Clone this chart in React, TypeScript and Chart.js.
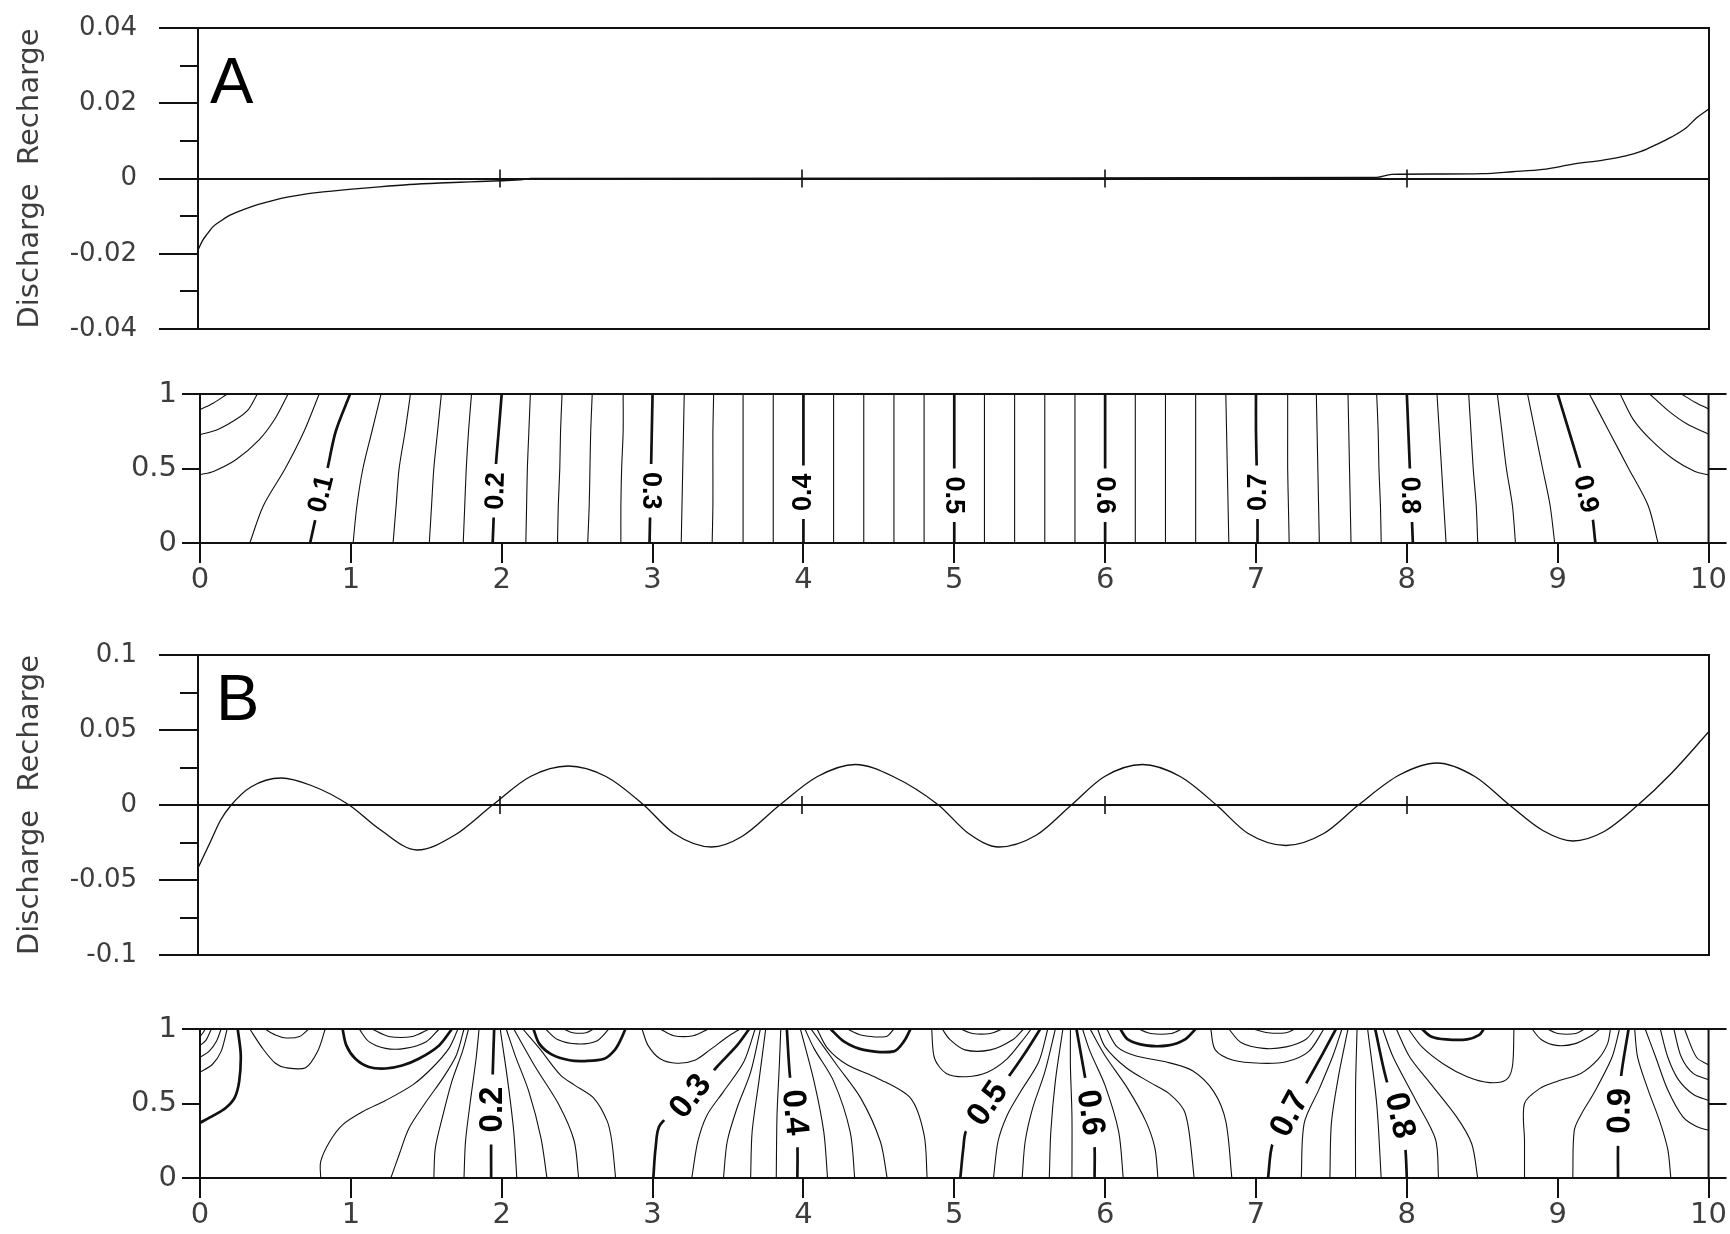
import { useEffect, useRef } from "react";
import { Chart, registerables } from "chart.js";

Chart.register(...registerables);

type Pt = [number, number];

const FONT = "'Liberation Sans', Arial, Helvetica, sans-serif";
const AXFONT = "'DejaVu Sans', Verdana, sans-serif";
const INK = "#111111";
const TEXT = "#3d3d3d";

// ---------------- Panel A : discharge / recharge profile ----------------
const xA = [0, 0.03, 0.06, 0.1, 0.15, 0.2, 0.3, 0.4, 0.5, 0.6, 0.7, 0.8, 0.9, 1.0, 1.2, 1.4, 1.6, 1.8, 2.0, 2.15, 2.2,
  7.8, 7.9, 8.2, 8.5, 8.7, 8.9, 9.1, 9.3, 9.45, 9.55, 9.65, 9.75, 9.85, 9.92, 10];
const yA = [-0.019, -0.0165, -0.0148, -0.0128, -0.0113, -0.01, -0.0083, -0.0069, -0.0058, -0.0049, -0.0042, -0.0037,
  -0.0033, -0.0029, -0.0022, -0.0016, -0.0012, -0.0009, -0.0006, -0.0003, 0,
  0.0003, 0.0011, 0.0012, 0.0013, 0.0018, 0.0024, 0.0038, 0.0049, 0.006, 0.0072, 0.009, 0.011, 0.0135, 0.0162, 0.0185];
const yMajorA = [-0.04, -0.02, 0, 0.02, 0.04];
const yLabelA = ["-0.04", "-0.02", "0", "0.02", "0.04"];
const yMinorA = [-0.03, -0.01, 0.01, 0.03];

// ---------------- Panel B : discharge / recharge profile ----------------
const xB = [0, 0.08, 0.15, 0.22, 0.35, 0.55, 0.75, 1.0, 1.2, 1.45, 1.7, 1.95, 2.2, 2.45, 2.7, 2.95, 3.15, 3.4, 3.6, 3.85,
  4.1, 4.35, 4.6, 4.9, 5.1, 5.3, 5.55, 5.78, 6.0, 6.25, 6.5, 6.74, 6.95, 7.2, 7.45, 7.68, 7.95, 8.2, 8.45, 8.68,
  8.9, 9.1, 9.3, 9.53, 9.75, 10];
const yB = [-0.042, -0.025, -0.01, 0, 0.012, 0.018, 0.013, 0, -0.016, -0.03, -0.02, 0, 0.019, 0.026, 0.019, 0,
  -0.019, -0.028, -0.021, 0, 0.019, 0.027, 0.019, 0, -0.019, -0.028, -0.02, 0, 0.019, 0.027, 0.019, 0,
  -0.019, -0.027, -0.019, 0, 0.02, 0.028, 0.019, 0, -0.017, -0.024, -0.018, 0, 0.021, 0.049];
const yMajorB = [-0.1, -0.05, 0, 0.05, 0.1];
const yLabelB = ["-0.1", "-0.05", "0", "0.05", "0.1"];
const yMinorB = [-0.075, -0.025, 0.025, 0.075];

// ---------------- shared axes ----------------
const xTicks = [0, 1, 2, 3, 4, 5, 6, 7, 8, 9, 10];
const xTickLabels = ["0", "1", "2", "3", "4", "5", "6", "7", "8", "9", "10"];
const zeroMarks = [2, 4, 6, 8];
const depthTicks = [0, 0.5, 1];
const depthLabels = ["0", "0.5", "1"];

// ---------------- Contours A (x position of each level at depth 0, .25, .5, .75, 1) ----------------
const aLevels = [0.08, 0.10, 0.12, 0.14, 0.16, 0.18, 0.20, 0.22, 0.24, 0.26, 0.28, 0.30, 0.32, 0.34, 0.36, 0.38, 0.40,
  0.42, 0.44, 0.46, 0.48, 0.50, 0.52, 0.54, 0.56, 0.58, 0.60, 0.62, 0.64, 0.66, 0.68, 0.70, 0.72, 0.74, 0.76, 0.78,
  0.80, 0.82, 0.84, 0.86, 0.88, 0.90, 0.92];
const aX0 = [0.33, 0.73, 1.015, 1.28, 1.52, 1.745, 1.94, 2.16, 2.37, 2.57, 2.79, 2.98, 3.19, 3.395, 3.60, 3.80, 4.00,
  4.20, 4.40, 4.60, 4.80, 5.00, 5.20, 5.40, 5.60, 5.80, 6.00, 6.20, 6.40, 6.60, 6.82, 7.01, 7.22, 7.42, 7.63, 7.83,
  8.04, 8.26, 8.47, 8.72, 8.98, 9.25, 9.665];
const aX25 = [0.42, 0.785, 1.04, 1.30, 1.535, 1.755, 1.95, 2.165, 2.375, 2.58, 2.79, 2.985, 3.195, 3.40, 3.60, 3.80,
  4.00, 4.20, 4.40, 4.60, 4.80, 5.00, 5.20, 5.40, 5.60, 5.80, 6.00, 6.20, 6.40, 6.60, 6.815, 7.01, 7.215, 7.415, 7.625,
  7.825, 8.03, 8.245, 8.46, 8.70, 8.95, 9.22, 9.60];
const aX50 = [0.565, 0.845, 1.08, 1.32, 1.55, 1.765, 1.96, 2.17, 2.385, 2.585, 2.795, 2.99, 3.20, 3.40, 3.60, 3.80,
  4.00, 4.20, 4.40, 4.60, 4.80, 5.00, 5.20, 5.40, 5.60, 5.80, 6.00, 6.20, 6.40, 6.60, 6.81, 7.005, 7.21, 7.41, 7.62,
  7.815, 8.02, 8.23, 8.44, 8.66, 8.90, 9.15, 9.47];
const aX75 = [0.69, 0.90, 1.14, 1.36, 1.575, 1.78, 1.98, 2.18, 2.39, 2.59, 2.805, 2.995, 3.205, 3.40, 3.60, 3.80,
  4.00, 4.20, 4.40, 4.60, 4.80, 5.00, 5.20, 5.40, 5.60, 5.80, 6.00, 6.20, 6.40, 6.60, 6.805, 7.00, 7.21, 7.405, 7.615,
  7.81, 8.01, 8.215, 8.425, 8.63, 8.85, 9.075, 9.34];
const aX100 = [0.79, 0.995, 1.20, 1.395, 1.60, 1.80, 2.00, 2.19, 2.40, 2.60, 2.805, 3.00, 3.21, 3.405, 3.60, 3.80,
  4.00, 4.20, 4.40, 4.60, 4.80, 5.00, 5.20, 5.40, 5.60, 5.80, 6.00, 6.20, 6.40, 6.60, 6.80, 7.00, 7.21, 7.40, 7.61,
  7.80, 8.00, 8.20, 8.41, 8.60, 8.80, 9.00, 9.21];
const aCornerLevels = [0.02, 0.04, 0.06, 0.94, 0.96, 0.98];
const aCornerPaths: Pt[][] = [
  [[0, 0.895], [0.09, 0.94], [0.18, 1]],
  [[0, 0.727], [0.114, 0.76], [0.24, 0.83], [0.32, 0.895], [0.38, 1]],
  [[0, 0.459], [0.089, 0.48], [0.24, 0.56], [0.39, 0.69], [0.495, 0.83], [0.584, 1]],
  [[9.414, 1], [9.5, 0.83], [9.62, 0.69], [9.77, 0.56], [9.91, 0.48], [10, 0.457]],
  [[9.61, 1], [9.73, 0.89], [9.855, 0.80], [10, 0.73]],
  [[9.82, 1], [9.91, 0.945], [10, 0.9]],
];
const aLabelText = ["0.1", "0.2", "0.3", "0.4", "0.5", "0.6", "0.7", "0.8", "0.9"];
const aLabelLevel = [0.1, 0.2, 0.3, 0.4, 0.5, 0.6, 0.7, 0.8, 0.9];
const aLabelX = [0.8, 1.955, 2.99, 3.995, 5.0, 6.0, 7.01, 8.025, 9.19];
const aLabelY = [0.33, 0.35, 0.35, 0.34, 0.32, 0.32, 0.34, 0.32, 0.33];
const aLabelRot = [-76, -88, 90, -90, 90, 90, -90, 89, 77];

// ---------------- Contours B (traced polylines) ----------------
const bLevels = [
  0.02, 0.04, 0.06, 0.08, 0.10, 0.12, 0.14, 0.10, 0.08, 0.06,
  0.12, 0.14, 0.16, 0.18, 0.20, 0.22, 0.24, 0.26, 0.28, 0.30,
  0.32, 0.34, 0.28, 0.26, 0.30, 0.32, 0.34, 0.36, 0.38, 0.40,
  0.42, 0.44, 0.46, 0.48, 0.50, 0.52, 0.48, 0.46, 0.44, 0.50,
  0.52, 0.54, 0.56, 0.58, 0.60, 0.62, 0.64, 0.66, 0.68, 0.70,
  0.72, 0.68, 0.66, 0.64, 0.70, 0.72, 0.74, 0.76, 0.78, 0.80,
  0.82, 0.84, 0.86, 0.88, 0.90, 0.84, 0.82, 0.88, 0.90,
  0.92, 0.94, 0.96, 0.98, 1.00];
const bPaths: Pt[][] = [
  [[0, 0.95], [0.02, 0.975], [0.035, 1]],
  [[0, 0.89], [0.04, 0.925], [0.075, 1]],
  [[0, 0.81], [0.06, 0.85], [0.11, 0.92], [0.14, 1]],
  [[0, 0.71], [0.08, 0.76], [0.14, 0.85], [0.18, 1]],
  [[0, 0.37], [0.09, 0.42], [0.17, 0.47], [0.23, 0.54], [0.26, 0.65], [0.27, 0.83], [0.25, 1]],
  [[0.33, 1], [0.415, 0.87], [0.5, 0.77], [0.57, 0.74], [0.7, 0.74], [0.78, 0.85], [0.83, 1]],
  [[0.43, 1], [0.5, 0.96], [0.57, 0.94], [0.66, 0.95], [0.72, 1]],
  [[0.945, 1], [0.97, 0.89], [1.03, 0.8], [1.12, 0.745], [1.23, 0.735], [1.34, 0.755], [1.45, 0.8], [1.585, 0.89], [1.67, 1]],
  [[1.055, 1], [1.12, 0.915], [1.23, 0.87], [1.36, 0.87], [1.5, 0.915], [1.585, 1]],
  [[1.14, 1], [1.25, 0.95], [1.41, 0.95], [1.52, 1]],
  [[0.8, 0], [0.8, 0.11], [0.86, 0.245], [0.945, 0.357], [1.08, 0.446], [1.23, 0.52], [1.41, 0.625], [1.54, 0.74], [1.65, 0.87], [1.71, 1]],
  [[1.265, 0], [1.32, 0.156], [1.386, 0.335], [1.5, 0.513], [1.61, 0.67], [1.7, 0.826], [1.75, 1]],
  [[1.55, 0], [1.56, 0.2], [1.61, 0.42], [1.67, 0.65], [1.74, 0.85], [1.78, 1]],
  [[1.75, 0], [1.76, 0.245], [1.795, 0.536], [1.83, 0.8], [1.85, 1]],
  [[1.93, 0], [1.93, 0.24], [1.935, 0.46], [1.94, 0.69], [1.95, 1]],
  [[2.1, 0], [2.08, 0.31], [2.04, 0.65], [1.99, 1]],
  [[2.3, 0], [2.26, 0.27], [2.18, 0.58], [2.09, 0.82], [2.03, 1]],
  [[2.51, 0], [2.48, 0.25], [2.38, 0.49], [2.22, 0.75], [2.08, 1]],
  [[2.14, 1], [2.25, 0.87], [2.39, 0.69], [2.48, 0.625], [2.61, 0.536], [2.7, 0.38], [2.73, 0.245], [2.755, 0]],
  [[2.21, 1], [2.25, 0.9], [2.33, 0.83], [2.45, 0.79], [2.55, 0.785], [2.68, 0.8], [2.75, 0.86], [2.79, 0.93], [2.82, 1]],
  [[2.29, 1], [2.37, 0.93], [2.5, 0.9], [2.63, 0.92], [2.71, 1]],
  [[2.41, 1], [2.47, 0.975], [2.56, 0.975], [2.61, 1]],
  [[2.93, 1], [2.97, 0.89], [3.05, 0.8], [3.16, 0.77], [3.28, 0.79], [3.38, 0.86], [3.5, 0.95], [3.58, 1]],
  [[3.05, 1], [3.14, 0.955], [3.27, 0.955], [3.37, 1]],
  [[3.005, 0], [3.02, 0.2], [3.05, 0.357], [3.26, 0.55], [3.43, 0.75], [3.56, 0.89], [3.64, 1]],
  [[3.26, 0], [3.3, 0.245], [3.36, 0.42], [3.47, 0.58], [3.605, 0.78], [3.68, 1]],
  [[3.47, 0], [3.495, 0.245], [3.56, 0.47], [3.65, 0.71], [3.715, 1]],
  [[3.65, 0], [3.66, 0.31], [3.705, 0.65], [3.75, 1]],
  [[3.82, 0], [3.825, 0.42], [3.84, 0.75], [3.85, 1]],
  [[3.96, 0], [3.96, 0.22], [3.94, 0.45], [3.91, 0.69], [3.89, 1]],
  [[4.16, 0], [4.135, 0.31], [4.07, 0.65], [3.98, 1]],
  [[4.34, 0], [4.31, 0.31], [4.2, 0.65], [4.07, 0.87], [4.01, 1]],
  [[4.555, 0], [4.51, 0.245], [4.38, 0.536], [4.22, 0.76], [4.05, 1]],
  [[4.82, 0], [4.8, 0.29], [4.71, 0.536], [4.49, 0.67], [4.29, 0.76], [4.16, 0.87], [4.09, 1]],
  [[4.18, 1], [4.27, 0.915], [4.4, 0.86], [4.6, 0.85], [4.665, 0.915], [4.71, 1]],
  [[4.29, 1], [4.38, 0.96], [4.55, 0.95], [4.6, 1]],
  [[4.85, 1], [4.87, 0.8], [4.95, 0.7], [5.08, 0.68], [5.22, 0.71], [5.35, 0.8], [5.45, 0.92], [5.51, 1]],
  [[4.92, 1], [4.97, 0.93], [5.07, 0.86], [5.24, 0.86], [5.39, 0.93], [5.46, 1]],
  [[5.04, 1], [5.12, 0.97], [5.24, 0.97], [5.32, 1]],
  [[5.04, 0], [5.06, 0.2], [5.08, 0.32], [5.22, 0.5], [5.36, 0.68], [5.47, 0.84], [5.57, 1]],
  [[5.26, 0], [5.29, 0.245], [5.35, 0.42], [5.44, 0.58], [5.56, 0.78], [5.62, 1]],
  [[5.45, 0], [5.47, 0.245], [5.52, 0.47], [5.6, 0.71], [5.67, 1]],
  [[5.63, 0], [5.64, 0.31], [5.67, 0.65], [5.72, 1]],
  [[5.78, 0], [5.78, 0.42], [5.77, 0.75], [5.77, 1]],
  [[5.93, 0], [5.93, 0.21], [5.91, 0.44], [5.87, 0.66], [5.81, 1]],
  [[6.12, 0], [6.09, 0.31], [6.0, 0.62], [5.9, 0.85], [5.85, 1]],
  [[6.35, 0], [6.33, 0.2], [6.27, 0.38], [6.15, 0.6], [6.0, 0.82], [5.9, 1]],
  [[6.59, 0], [6.555, 0.32], [6.52, 0.46], [6.42, 0.57], [6.3, 0.64], [6.14, 0.74], [6.0, 0.88], [5.95, 1]],
  [[6.01, 1], [6.08, 0.88], [6.2, 0.82], [6.4, 0.78], [6.58, 0.72], [6.72, 0.58], [6.8, 0.38], [6.84, 0]],
  [[6.1, 1], [6.15, 0.93], [6.27, 0.89], [6.42, 0.89], [6.53, 0.93], [6.6, 1]],
  [[6.22, 1], [6.3, 0.97], [6.44, 0.97], [6.51, 1]],
  [[6.7, 1], [6.73, 0.86], [6.85, 0.79], [7.03, 0.77], [7.2, 0.78], [7.35, 0.85], [7.45, 1]],
  [[6.82, 1], [6.9, 0.91], [7.05, 0.87], [7.2, 0.88], [7.33, 0.93], [7.39, 1]],
  [[6.98, 1], [7.08, 0.975], [7.2, 0.975], [7.26, 1]],
  [[7.08, 0], [7.11, 0.23], [7.22, 0.43], [7.33, 0.63], [7.44, 0.83], [7.53, 1]],
  [[7.3, 0], [7.32, 0.37], [7.42, 0.6], [7.51, 0.82], [7.57, 1]],
  [[7.49, 0], [7.5, 0.37], [7.55, 0.7], [7.61, 1]],
  [[7.66, 0], [7.66, 0.6], [7.67, 1]],
  [[7.83, 0], [7.8, 0.5], [7.74, 1]],
  [[8.0, 0], [7.99, 0.2], [7.96, 0.41], [7.87, 0.64], [7.79, 1]],
  [[8.21, 0], [8.19, 0.26], [8.06, 0.52], [7.91, 0.81], [7.84, 1]],
  [[8.47, 0], [8.43, 0.23], [8.33, 0.41], [8.16, 0.63], [8.02, 0.81], [7.93, 1]],
  [[8.78, 0], [8.78, 0.25], [8.78, 0.5], [8.88, 0.6], [9.0, 0.65], [9.15, 0.7], [9.27, 0.8], [9.33, 0.9], [9.35, 1]],
  [[8.01, 1], [8.1, 0.88], [8.25, 0.76], [8.4, 0.68], [8.55, 0.64], [8.66, 0.66], [8.7, 0.75], [8.71, 1]],
  [[8.1, 1], [8.16, 0.95], [8.26, 0.93], [8.4, 0.93], [8.48, 0.96], [8.51, 1]],
  [[8.83, 1], [8.89, 0.93], [8.99, 0.89], [9.11, 0.9], [9.23, 0.96], [9.28, 1]],
  [[8.93, 1], [9.0, 0.97], [9.12, 0.97], [9.18, 1]],
  [[9.1, 0], [9.11, 0.32], [9.16, 0.435], [9.24, 0.57], [9.36, 0.81], [9.41, 1]],
  [[9.4, 0], [9.4, 0.22], [9.41, 0.44], [9.42, 0.68], [9.47, 1]],
  [[9.75, 0], [9.73, 0.19], [9.68, 0.37], [9.6, 0.59], [9.53, 0.81], [9.51, 1]],
  [[10, 0.32], [9.92, 0.345], [9.83, 0.41], [9.73, 0.59], [9.65, 0.81], [9.58, 1]],
  [[10, 0.52], [9.9, 0.56], [9.8, 0.66], [9.73, 0.81], [9.68, 1]],
  [[10, 0.66], [9.9, 0.7], [9.82, 0.81], [9.77, 1]],
  [[10, 0.76], [9.92, 0.81], [9.84, 1]],
];
const bLabelText = ["0.2", "0.3", "0.4", "0.5", "0.6", "0.7", "0.8", "0.9"];
const bLabelLevel = [0.2, 0.3, 0.4, 0.5, 0.6, 0.7, 0.8, 0.9];
const bLabelX = [1.935, 3.25, 3.945, 5.22, 5.905, 7.22, 7.955, 9.41];
const bLabelY = [0.46, 0.55, 0.44, 0.5, 0.44, 0.43, 0.42, 0.45];
const bLabelRot = [-90, -52, 84, -55, 82, -62, 78, -89];

// ---------------- helpers ----------------
function seg(ctx: CanvasRenderingContext2D, x1: number, y1: number, x2: number, y2: number) {
  ctx.beginPath();
  ctx.moveTo(x1, y1);
  ctx.lineTo(x2, y2);
  ctx.stroke();
}

const isMajor = (lv: number) => {
  const k = Math.round(lv * 100);
  return k > 0 && k < 100 && k % 10 === 0;
};

const hiddenTicks = (len: number) => ({
  display: true, drawOnChartArea: false, drawTicks: true, tickLength: len, tickColor: "rgba(0,0,0,0)",
});

interface LineSpec {
  xs: number[]; ys: number[]; majors: number[]; labels: string[]; minors: number[];
  min: number; max: number; letter: string; letterDx: number; letterBase: number;
  padTop: number; padBottom: number;
}

const LINE_LEFT = 198;
const CONTOUR_LEFT = 200;
const RIGHT_PAD = 21;

function buildLine(canvas: HTMLCanvasElement, p: LineSpec) {
  const frame = {
    id: "frame-" + p.letter,
    afterDatasetsDraw(chart: any) {
      const { ctx, chartArea: ca, scales } = chart;
      const xs = scales.x, ys = scales.y;
      ctx.save();
      ctx.strokeStyle = INK;
      ctx.lineWidth = 2;
      seg(ctx, ca.left, ca.top - 1, ca.left, ca.bottom + 1);
      seg(ctx, ca.right, ca.top - 1, ca.right, ca.bottom + 1);
      for (const v of p.majors) {
        const py = Math.round(ys.getPixelForValue(v));
        const full = v === p.min || v === p.max || v === 0;
        seg(ctx, ca.left - 39, py, full ? ca.right + 1 : ca.left, py);
      }
      for (const v of p.minors) {
        const py = Math.round(ys.getPixelForValue(v));
        seg(ctx, ca.left - 18, py, ca.left, py);
      }
      ctx.lineWidth = 1.6;
      const y0 = ys.getPixelForValue(0);
      for (const m of zeroMarks) {
        const px = Math.round(xs.getPixelForValue(m));
        seg(ctx, px, y0 - 9, px, y0 + 9);
      }
      ctx.fillStyle = "#000";
      ctx.font = `65px ${FONT}`;
      ctx.textAlign = "left";
      ctx.textBaseline = "alphabetic";
      ctx.fillText(p.letter, ca.left + p.letterDx, ca.top + p.letterBase);
      ctx.restore();
    },
  };
  return new Chart(canvas, {
    type: "line",
    data: {
      datasets: [{
        data: p.xs.map((x, i) => ({ x, y: p.ys[i] })),
        borderColor: INK, borderWidth: 1.3, pointRadius: 0, fill: false,
        cubicInterpolationMode: "monotone",
      }],
    },
    options: {
      responsive: false, animation: false, events: [],
      layout: { padding: { left: 0, top: p.padTop, bottom: p.padBottom, right: RIGHT_PAD } },
      plugins: { legend: { display: false }, tooltip: { enabled: false }, title: { display: false } },
      scales: {
        x: { type: "linear", min: 0, max: 10, display: false },
        y: {
          type: "linear", min: p.min, max: p.max,
          afterBuildTicks: (s: any) => { s.ticks = p.majors.map((v) => ({ value: v })); },
          afterFit: (s: any) => { s.width = LINE_LEFT; },
          grid: hiddenTicks(58),
          border: { display: false },
          ticks: {
            autoSkip: false, padding: 3, color: TEXT,
            font: { family: AXFONT, size: 26 },
            callback: (_v: any, i: number) => p.labels[i],
          },
          title: {
            display: true, text: "Discharge  Recharge", color: TEXT,
            font: { family: AXFONT, size: 29 }, padding: { top: 13, bottom: 0 },
          },
        },
      },
    } as any,
    plugins: [frame],
  });
}

interface ContourSpec {
  id: string;
  levels: number[]; paths: Pt[][];
  labText: string[]; labLevel: number[]; labX: number[]; labY: number[]; labRot: number[];
  labFont: number; gap: number; padTop: number; axisH: number;
}

function buildContour(canvas: HTMLCanvasElement, p: ContourSpec) {
  const clipped = new Set<number>();
  const plug = {
    id: "contour-" + p.id,
    beforeDatasetDraw(chart: any, args: any) {
      const ds = chart.data.datasets[args.index];
      const idx = p.labLevel.map((lv, i) => (Math.abs(lv - ds.level) < 1e-6 ? i : -1)).filter((i) => i >= 0);
      if (!idx.length) return;
      const { ctx, scales } = chart;
      ctx.save();
      ctx.beginPath();
      ctx.rect(0, 0, chart.width, chart.height);
      ctx.font = `bold ${p.labFont}px ${FONT}`;
      for (const i of idx) {
        const cx = scales.x.getPixelForValue(p.labX[i]);
        const cy = scales.y.getPixelForValue(p.labY[i]);
        const hw = (ctx.measureText(p.labText[i]).width + p.gap) / 2;
        const hh = p.labFont * 0.55;
        const a = (p.labRot[i] * Math.PI) / 180, c = Math.cos(a), s = Math.sin(a);
        const corners = [[-hw, -hh], [hw, -hh], [hw, hh], [-hw, hh]].map(([u, v]) => [cx + u * c - v * s, cy + u * s + v * c]);
        ctx.moveTo(corners[0][0], corners[0][1]);
        for (let k = 1; k < 4; k++) ctx.lineTo(corners[k][0], corners[k][1]);
        ctx.closePath();
      }
      ctx.clip("evenodd");
      clipped.add(args.index);
    },
    afterDatasetDraw(chart: any, args: any) {
      if (clipped.has(args.index)) {
        chart.ctx.restore();
        clipped.delete(args.index);
      }
    },
    afterDatasetsDraw(chart: any) {
      const { ctx, chartArea: ca, scales } = chart;
      const xs = scales.x, ys = scales.y;
      ctx.save();
      ctx.strokeStyle = INK;
      ctx.lineWidth = 2;
      const yt = Math.round(ys.getPixelForValue(1));
      const yb = Math.round(ys.getPixelForValue(0));
      const ym = Math.round(ys.getPixelForValue(0.5));
      seg(ctx, ca.left - 18, yt, ca.right + 18, yt);
      seg(ctx, ca.left - 18, yb, ca.right + 18, yb);
      seg(ctx, ca.left - 18, ym, ca.left, ym);
      seg(ctx, ca.right, ym, ca.right + 18, ym);
      seg(ctx, ca.left, yt, ca.left, yb);
      seg(ctx, ca.right, yt, ca.right, yb);
      for (const t of xTicks) {
        const px = Math.round(xs.getPixelForValue(t));
        seg(ctx, px, yb, px, yb + 20);
      }
      ctx.fillStyle = "#000";
      ctx.font = `bold ${p.labFont}px ${FONT}`;
      ctx.textAlign = "center";
      ctx.textBaseline = "middle";
      p.labText.forEach((t, i) => {
        ctx.save();
        ctx.translate(xs.getPixelForValue(p.labX[i]), ys.getPixelForValue(p.labY[i]));
        ctx.rotate((p.labRot[i] * Math.PI) / 180);
        ctx.fillText(t, 0, 1);
        ctx.restore();
      });
      ctx.restore();
    },
  };
  return new Chart(canvas, {
    type: "line",
    data: {
      datasets: p.paths.map((pts, i) => ({
        data: pts.map(([x, y]) => ({ x, y })),
        level: p.levels[i],
        borderColor: INK,
        borderWidth: isMajor(p.levels[i]) ? 2.7 : 1.1,
        pointRadius: 0, fill: false, tension: 0.3,
      })),
    },
    options: {
      responsive: false, animation: false, events: [],
      layout: { padding: { left: 0, top: p.padTop, bottom: 0, right: RIGHT_PAD } },
      plugins: { legend: { display: false }, tooltip: { enabled: false }, title: { display: false } },
      scales: {
        x: {
          type: "linear", min: 0, max: 10,
          afterBuildTicks: (s: any) => { s.ticks = xTicks.map((v) => ({ value: v })); },
          afterFit: (s: any) => { s.height = p.axisH; },
          grid: hiddenTicks(17), border: { display: false },
          ticks: {
            autoSkip: false, maxRotation: 0, padding: 3, color: TEXT,
            font: { family: AXFONT, size: 29 },
            callback: (_v: any, i: number) => xTickLabels[i],
          },
        },
        y: {
          type: "linear", min: 0, max: 1,
          afterBuildTicks: (s: any) => { s.ticks = depthTicks.map((v) => ({ value: v })); },
          afterFit: (s: any) => { s.width = CONTOUR_LEFT; },
          grid: hiddenTicks(20), border: { display: false },
          ticks: {
            autoSkip: false, padding: 3, color: TEXT,
            font: { family: AXFONT, size: 29 },
            callback: (_v: any, i: number) => depthLabels[i],
          },
        },
      },
    } as any,
    plugins: [plug],
  });
}

const contourALevels = [...aCornerLevels, ...aLevels];
const contourAPaths: Pt[][] = [
  ...aCornerPaths,
  ...aLevels.map((_, i) => [[aX0[i], 0], [aX25[i], 0.25], [aX50[i], 0.5], [aX75[i], 0.75], [aX100[i], 1]] as Pt[]),
];

const buildA1 = (c: HTMLCanvasElement) => buildLine(c, {
  xs: xA, ys: yA, majors: yMajorA, labels: yLabelA, minors: yMinorA, min: -0.04, max: 0.04,
  letter: "A", letterDx: 12, letterBase: 75, padTop: 28, padBottom: 31,
});
const buildA2 = (c: HTMLCanvasElement) => buildContour(c, {
  id: "A", levels: contourALevels, paths: contourAPaths,
  labText: aLabelText, labLevel: aLabelLevel, labX: aLabelX, labY: aLabelY, labRot: aLabelRot,
  labFont: 27, gap: 16, padTop: 34, axisH: 67,
});
const buildB1 = (c: HTMLCanvasElement) => buildLine(c, {
  xs: xB, ys: yB, majors: yMajorB, labels: yLabelB, minors: yMinorB, min: -0.1, max: 0.1,
  letter: "B", letterDx: 18, letterBase: 65, padTop: 40, padBottom: 20,
});
const buildB2 = (c: HTMLCanvasElement) => buildContour(c, {
  id: "B", levels: bLevels, paths: bPaths,
  labText: bLabelText, labLevel: bLabelLevel, labX: bLabelX, labY: bLabelY, labRot: bLabelRot,
  labFont: 33, gap: 24, padTop: 44, axisH: 56,
});

function ChartBox({ top, height, build }: { top: number; height: number; build: (c: HTMLCanvasElement) => Chart }) {
  const ref = useRef<HTMLCanvasElement | null>(null);
  useEffect(() => {
    if (!ref.current) return;
    const chart = build(ref.current);
    return () => chart.destroy();
  }, [build]);
  return (
    <canvas
      ref={ref}
      width={1730}
      height={height}
      style={{ position: "absolute", left: 0, top, width: 1730, height }}
    />
  );
}

export default function App() {
  return (
    <div style={{ position: "absolute", left: 0, top: 0, width: 1730, height: 1234, background: "#ffffff", overflow: "hidden" }}>
      <ChartBox top={0} height={360} build={buildA1} />
      <ChartBox top={360} height={250} build={buildA2} />
      <ChartBox top={615} height={360} build={buildB1} />
      <ChartBox top={985} height={249} build={buildB2} />
    </div>
  );
}
